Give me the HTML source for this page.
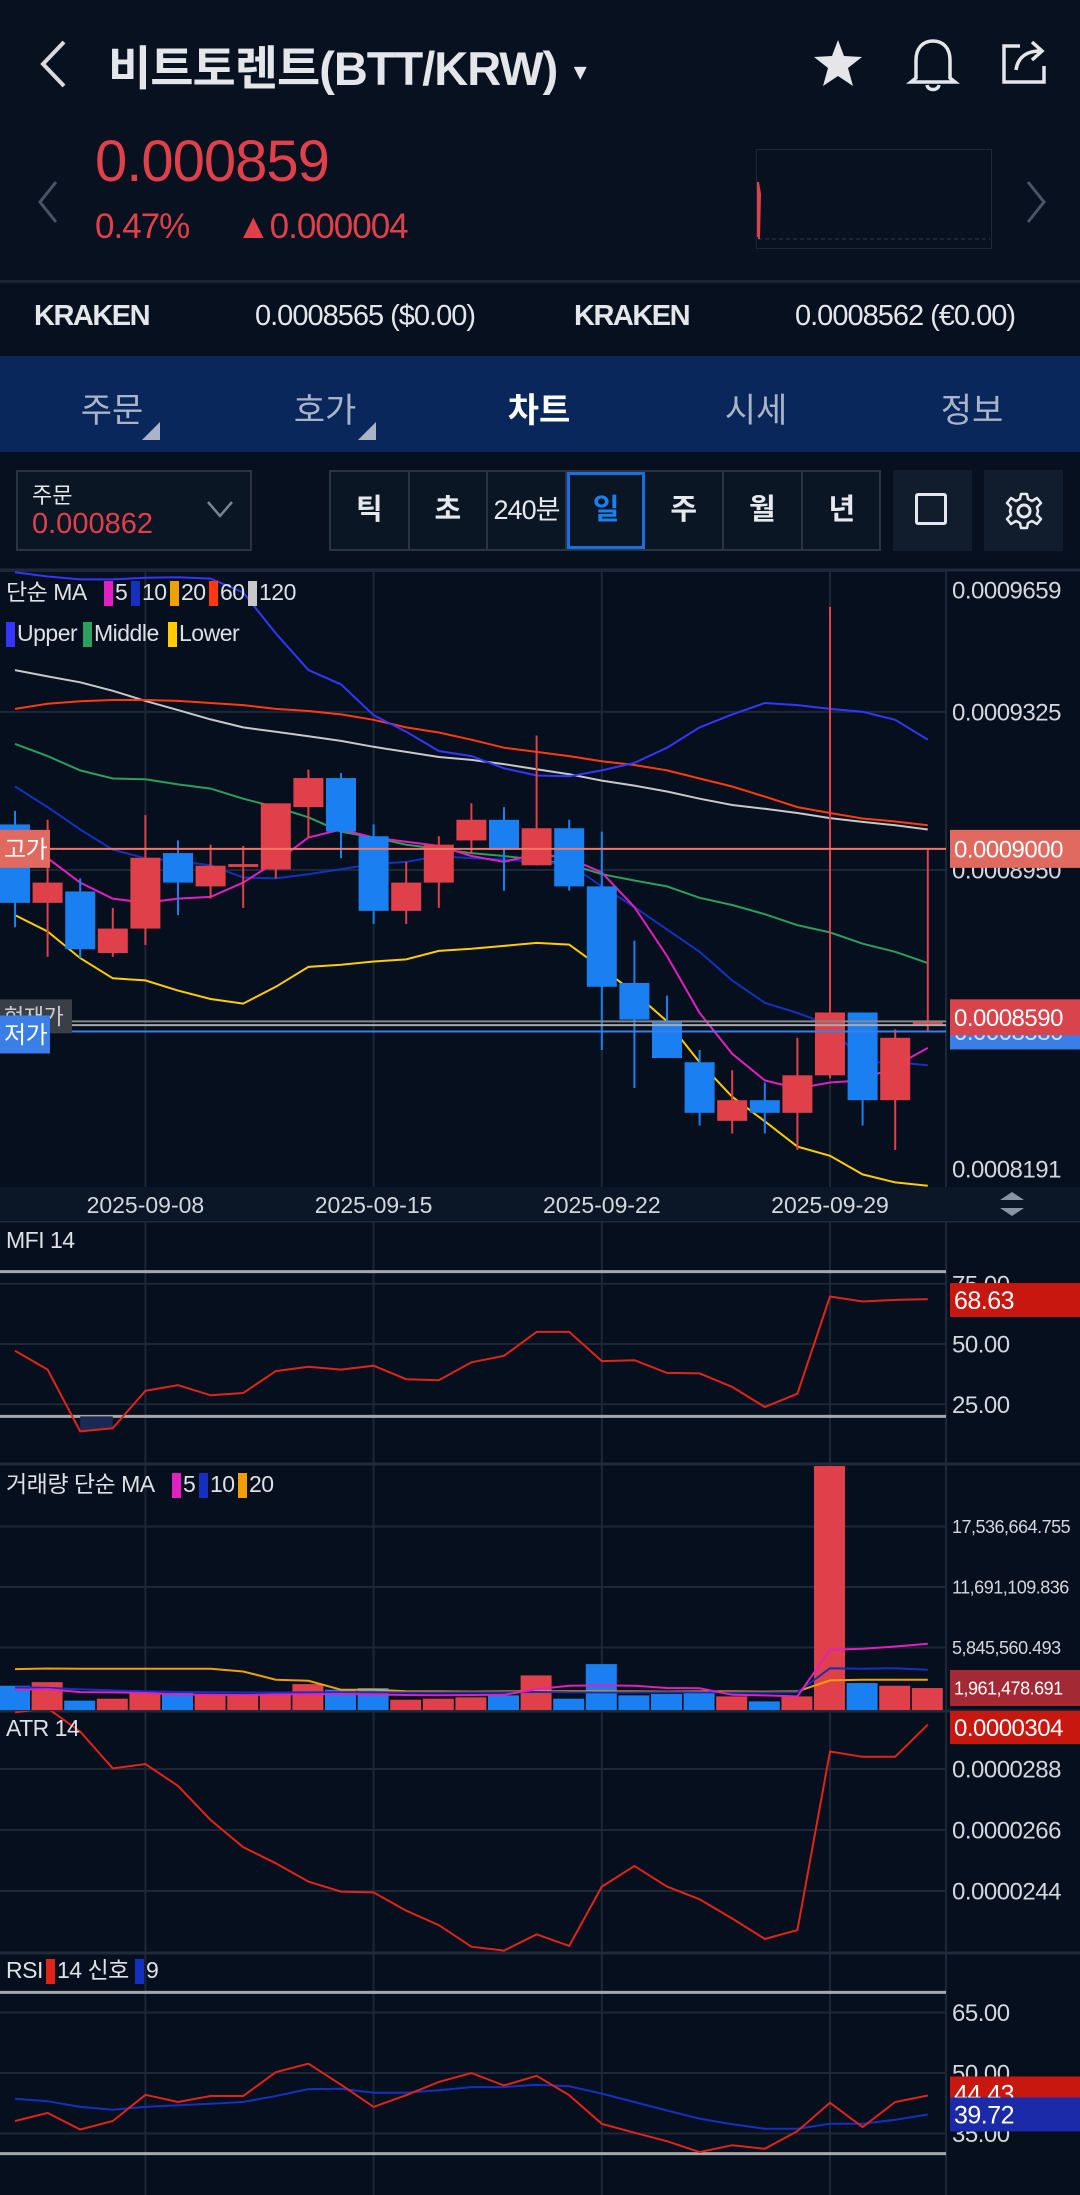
<!DOCTYPE html>
<html><head><meta charset="utf-8">
<style>
html,body{margin:0;padding:0;background:#07101e;}
body{width:1080px;height:2195px;position:relative;overflow:hidden;font-family:"Liberation Sans","Noto Sans CJK KR",sans-serif;color:#e6e8ec;}
.abs{position:absolute;}
.tb{position:absolute;top:470px;height:81px;border:2px solid #2b3442;background:#0b1625;box-sizing:border-box;}
.seg{position:absolute;top:0;height:77px;width:78.6px;border-right:2px solid #2b3442;box-sizing:border-box;text-align:center;line-height:77px;font-size:29px;font-weight:bold;color:#e6e8ec;}
</style></head><body>
<div class="abs" style="left:0;top:0;width:1080px;height:281px;background:#07111f;"></div>
<svg class="abs" style="left:38px;top:38px" width="30" height="52"><polyline points="26,4 5,26 26,48" fill="none" stroke="#d8dbe0" stroke-width="4"/></svg>
<div class="abs" style="left:108px;top:30px;font-size:47px;font-weight:bold;color:#e4e6ea;letter-spacing:-1px;">비트토렌트(BTT/KRW) <span style="font-size:22px;vertical-align:middle">▼</span></div>
<svg class="abs" style="left:812px;top:38px" width="52" height="50"><polygon points="26,2 32,18 50,19 36,30 41,48 26,38 11,48 16,30 2,19 20,18" fill="#e4e6ea"/></svg>
<svg class="abs" style="left:906px;top:36px" width="54" height="56"><path d="M10,42 L10,24 C10,12 17,5 27,5 C37,5 44,12 44,24 L44,42 L49,46 L5,46 Z" fill="none" stroke="#e4e6ea" stroke-width="3.5"/><path d="M21,49 C22,55 32,55 33,49" fill="none" stroke="#e4e6ea" stroke-width="3.5"/></svg>
<svg class="abs" style="left:998px;top:36px" width="54" height="52"><path d="M22,10 L6,10 L6,46 L46,46 L46,30" fill="none" stroke="#e4e6ea" stroke-width="3.5"/><path d="M18,34 C20,20 30,15 42,15 M34,6 L44,15 L34,24" fill="none" stroke="#e4e6ea" stroke-width="3.5"/></svg>
<svg class="abs" style="left:36px;top:180px" width="24" height="44"><polyline points="20,2 4,22 20,42" fill="none" stroke="#4a5466" stroke-width="3"/></svg>
<svg class="abs" style="left:1024px;top:180px" width="24" height="44"><polyline points="4,2 20,22 4,42" fill="none" stroke="#4a5466" stroke-width="3"/></svg>
<div class="abs" style="left:95px;top:128px;font-size:58px;color:#e0404a;letter-spacing:-1px;">0.000859</div>
<div class="abs" style="left:95px;top:207px;font-size:35px;color:#e0404a;letter-spacing:-1px;">0.47%</div>
<div class="abs" style="left:236px;top:207px;font-size:35px;color:#e0404a;letter-spacing:-1px;">▲0.000004</div>
<svg class="abs" style="left:756px;top:149px" width="236" height="100"><rect x="0.5" y="0.5" width="235" height="99" fill="none" stroke="#1d2736"/><line x1="2" y1="90" x2="234" y2="90" stroke="#2c3644" stroke-dasharray="4,3"/><polyline points="2,88 2,33 4,45 3,90" fill="none" stroke="#e0404a" stroke-width="2"/></svg>
<div class="abs" style="left:0;top:280px;width:1080px;height:3px;background:#1a2332;"></div>
<div class="abs" style="left:34px;top:300px;font-size:29px;font-weight:bold;color:#e4e6ea;letter-spacing:-1.5px;">KRAKEN</div>
<div class="abs" style="left:255px;top:300px;font-size:29px;color:#e4e6ea;letter-spacing:-1px;">0.0008565 ($0.00)</div>
<div class="abs" style="left:574px;top:300px;font-size:29px;font-weight:bold;color:#e4e6ea;letter-spacing:-1.5px;">KRAKEN</div>
<div class="abs" style="left:795px;top:300px;font-size:29px;color:#e4e6ea;letter-spacing:-1px;">0.0008562 (€0.00)</div>
<div class="abs" style="left:0;top:356px;width:1080px;height:96px;background:#0a275c;"></div>
<div class="abs" style="left:52px;top:383px;width:120px;text-align:center;font-size:34px;color:#a9b4c8;">주문</div>
<div class="abs" style="left:265px;top:383px;width:120px;text-align:center;font-size:34px;color:#a9b4c8;">호가</div>
<div class="abs" style="left:479px;top:383px;width:120px;text-align:center;font-size:34px;font-weight:bold;color:#ffffff;">차트</div>
<div class="abs" style="left:696px;top:383px;width:120px;text-align:center;font-size:34px;color:#a9b4c8;">시세</div>
<div class="abs" style="left:912px;top:383px;width:120px;text-align:center;font-size:34px;color:#a9b4c8;">정보</div>
<svg class="abs" style="left:142px;top:422px" width="20" height="20"><polygon points="18,0 18,18 0,18" fill="#a9b4c8"/></svg>
<svg class="abs" style="left:358px;top:422px" width="20" height="20"><polygon points="18,0 18,18 0,18" fill="#a9b4c8"/></svg>
<div class="tb" style="left:16px;width:236px;">
 <div class="abs" style="left:14px;top:6px;font-size:22px;color:#e6e8ec;">주문</div>
 <div class="abs" style="left:14px;top:36px;font-size:29px;color:#e0404a;">0.000862</div>
 <svg class="abs" style="left:188px;top:28px" width="28" height="20"><polyline points="2,2 14,16 26,2" fill="none" stroke="#7a8292" stroke-width="2.5"/></svg>
</div>
<div class="tb" style="left:329px;width:552px;">
 <div class="seg" style="left:0">틱</div>
 <div class="seg" style="left:78.6px">초</div>
 <div class="seg" style="left:157.2px;font-weight:normal;font-size:27px;letter-spacing:-1px">240분</div>
 <div class="seg" style="left:235.8px;border:3px solid #1a6ee0;color:#1a7ff0;line-height:71px;">일</div>
 <div class="seg" style="left:314.4px">주</div>
 <div class="seg" style="left:393px">월</div>
 <div class="seg" style="left:471.6px;border-right:none">년</div>
</div>
<div class="tb" style="left:893px;width:79px;background:#111c2c;border-color:#111c2c;"><div class="abs" style="left:20px;top:21px;width:32px;height:32px;border:3px solid #e6e8ec;border-radius:3px;box-sizing:border-box;"></div></div>
<div class="tb" style="left:984px;width:79px;background:#111c2c;border-color:#111c2c;"><svg class="abs" style="left:18px;top:19px" width="40" height="40" viewBox="0 0 40 40"><circle cx="20" cy="20" r="6" fill="none" stroke="#e6e8ec" stroke-width="3"/><path d="M17,3 L23,3 L24,8 L28,10 L33,7 L37,12 L33,16 L34,20 L33,24 L37,28 L33,33 L28,30 L24,32 L23,37 L17,37 L16,32 L12,30 L7,33 L3,28 L7,24 L6,20 L7,16 L3,12 L7,7 L12,10 L16,8 Z" fill="none" stroke="#e6e8ec" stroke-width="2.5" stroke-linejoin="round"/></svg></div>

<svg id="chart" class="abs" style="left:0;top:560px" width="1080" height="1635" viewBox="0 560 1080 1635"></svg>

<script>
const dates = ['09-04','09-05','09-06','09-07','09-08','09-09','09-10','09-11','09-12','09-13','09-14','09-15','09-16','09-17','09-18','09-19','09-20','09-21','09-22','09-23','09-24','09-25','09-26','09-27','09-28','09-29','09-30','10-01','10-02'];
const axisDates = ['2025-09-08','2025-09-15','2025-09-22','2025-09-29'];
const axisDateIdx = [4,11,18,25];
const open  = [9058,8872,8899,8753,8811,8990,8911,8957,8951,9099,9168,9030,8853,8920,9020,9069,8961,9049,8911,8682,8591,8494,8355,8404,8374,8463,8612,8404,8583];
const high  = [9090,9069,8930,8860,9080,9020,9010,9007,9108,9188,9180,9058,8969,9030,9108,9099,9269,9069,9041,8782,8652,8523,8475,8446,8552,9574,8612,8572,8999];
const low   = [8814,8744,8741,8744,8772,8843,8882,8860,8930,9027,8978,8822,8822,8860,8988,8901,8961,8901,8523,8433,8504,8344,8325,8325,8286,8456,8344,8286,8567];
const close = [8872,8920,8762,8811,8979,8920,8960,8964,9108,9168,9041,8853,8920,9010,9069,8998,9049,8911,8673,8595,8504,8374,8404,8374,8463,8612,8404,8552,8593];
const ma5   = [9003,8978,8920,8882,8872,8882,8886,8920,8969,9027,9046,9027,9017,9007,8983,8969,8988,8978,8944,8862,8746,8611,8514,8451,8432,8446,8451,8485,8528];
const ma10  = [9148,9099,9046,8998,8978,8971,8961,8932,8930,8940,8952,8964,8969,8983,8978,8975,8969,8964,8911,8862,8809,8756,8688,8635,8611,8582,8494,8494,8487];
const ma60  = [9332,9344,9350,9353,9353,9351,9346,9341,9332,9327,9319,9306,9288,9276,9259,9240,9230,9220,9208,9199,9186,9167,9148,9124,9099,9085,9072,9065,9056];
const ma120 = [9424,9409,9395,9375,9351,9329,9307,9288,9278,9267,9256,9242,9230,9218,9211,9201,9189,9177,9162,9150,9136,9119,9104,9095,9085,9073,9064,9056,9046];
const bbUpper  = [9656,9646,9639,9639,9643,9644,9641,9608,9511,9424,9390,9317,9278,9232,9220,9191,9174,9172,9186,9204,9240,9288,9319,9346,9341,9332,9325,9306,9259];
const bbMiddle = [9249,9220,9186,9167,9165,9153,9143,9119,9099,9075,9041,9027,9010,9000,8990,8983,8974,8964,8940,8925,8911,8884,8867,8845,8819,8802,8775,8756,8729];
const bbLower  = [8843,8804,8741,8693,8688,8664,8644,8633,8673,8720,8725,8733,8738,8758,8763,8770,8777,8773,8717,8659,8591,8494,8412,8354,8294,8272,8228,8209,8201];
const volume = [2.15,2.5,0.71,0.9,1.45,1.45,1.28,1.35,1.35,2.31,1.77,1.93,0.8,0.9,1.03,1.22,3.15,0.9,4.24,1.22,1.35,1.54,1.12,0.64,1.12,23.38,2.41,2.15,1.93];
const volMa5  = [1.77,1.83,1.54,1.51,1.45,1.3,1.28,1.26,1.3,1.32,1.36,1.3,1.26,1.24,1.26,1.28,1.83,2.15,2.18,2.15,1.93,1.9,1.28,1.22,1.12,5.62,5.72,5.94,6.2];
const volMa10 = [1.99,1.95,1.8,1.7,1.6,1.55,1.52,1.5,1.5,1.51,1.52,1.51,1.5,1.5,1.51,1.52,1.55,1.52,1.5,1.51,1.52,1.51,1.5,1.5,1.52,3.85,3.79,3.85,3.69];
const volMa20 = [3.76,3.82,3.79,3.79,3.79,3.79,3.79,3.53,2.73,2.63,1.77,1.77,1.62,1.6,1.58,1.6,1.6,1.62,1.6,1.6,1.58,1.6,1.6,1.58,1.6,2.67,2.73,2.73,2.73];
const mfi = [47.2,39.4,13.75,15.1,30.6,32.9,28.75,29.7,38.75,40.6,39.4,41,35.4,35,42.4,45.1,55,55,42.9,43.3,38,37.8,32.2,23.9,29.4,69.7,67.6,68.3,68.63];
const atr = [308.4,309.9,301.5,288.2,289.8,281.9,269.6,259.8,254,247.4,243.8,243.5,236.9,231.7,223.9,222.5,228.4,224.2,245.6,253,245.6,241,234.1,226.7,229.9,294.3,292.4,292.4,304];
const rsi = [38.1,40.1,36,38.1,44.6,42.8,44.3,44.3,50.2,52.3,47.1,41.6,44.5,47.8,50,46.9,49.3,44.5,37.4,35.2,33.1,30.4,32.1,31.2,35.6,42.6,36.6,42.8,44.43];
const rsiSignal = [43.6,43,41.6,40.9,41.6,42,42.4,42.8,44.3,46,46.1,45.1,45.1,45.7,46.5,46.5,47.1,46.7,44.9,42.8,40.7,38.7,37.3,36.2,36.2,37.4,37.4,38.4,39.72];
const priceTicks = [9659,9325,8950,8191];
const mfiTicks = [75,50,25];
const volTicks = [17536664.755,11691109.836,5845560.493];
const atrTicks = [288,266,244];
const rsiTicks = [65,50,35];

const NS='http://www.w3.org/2000/svg';
const svg=document.getElementById('chart');
function mk(tag,attrs,parent){const e=document.createElementNS(NS,tag);for(const k in attrs)e.setAttribute(k,attrs[k]);(parent||svg).appendChild(e);return e;}
const P=v=>v*1e-7;
const xAt=i=>15+i*32.6;
const priceY=p=>571+(0.0009659-p)/0.0001468*619;
const mfiY=v=>1344-(v-50)*60.3/25;
const volY=v=>1708-v/5845560.493*60.5;
const atrY=v=>1769-(v*1e-7-0.0000288)/0.0000022*61;
const rsiY=v=>2073-(v-50)*60.5/15;
const PW=946;
function pathOf(arr,yf){return arr.map((v,i)=>(i?'L':'M')+xAt(i).toFixed(1)+','+yf(v).toFixed(1)).join(' ');}
function clip(id,y0,y1){const d=mk('clipPath',{id:id});mk('rect',{x:0,y:y0,width:PW,height:y1-y0},d);}

mk('rect',{x:0,y:560,width:1080,height:1635,fill:'#060f1d'});
clip('cMain',570,1187);clip('cMfi',1221,1464);clip('cVol',1464,1710);clip('cAtr',1711,1953);clip('cRsi',1953,2195);

axisDateIdx.forEach(i=>{
  const g=mk('line',{x1:xAt(i),x2:xAt(i),y1:570,y2:2195,stroke:'#1c2737','stroke-width':2});
  
  
});
let e=mk('line',{x1:PW,x2:PW,y1:570,y2:2195,stroke:'#1c2737','stroke-width':2});


[570,1221,1464,1711,1953].forEach(y=>{
  const l=mk('line',{x1:0,x2:1080,y1:y,y2:y,stroke:'#1f2a3a','stroke-width':3});
  
  
});

function gridAndLabels(ticks,yf,fmt,size,name,ymax){
  ticks.forEach(t=>{
    const y=yf(t);
    const g=mk('line',{x1:0,x2:PW,y1:y,y2:y,stroke:'#1c2737','stroke-width':2});
    
    
    const ly=Math.min(Math.max(y,590),ymax||9999);
    const tx=mk('text',{x:952,y:ly+size*0.36,fill:'#d4d8de','font-size':size,'font-family':'Liberation Sans, sans-serif','letter-spacing':'-0.5'});
    tx.textContent=fmt(t);
    
    
  });
}
gridAndLabels(priceTicks,v=>priceY(P(v)),v=>P(v).toFixed(7),24,'price',1169);

const gm=mk('g',{'clip-path':'url(#cMain)'});


function drawLine(arr,yf,color,w,name,parent){const l=mk('path',{d:pathOf(arr,yf),fill:'none',stroke:color,'stroke-width':w},parent);return l;}
const pY=v=>priceY(P(v));
drawLine(ma120,pY,'#c8c8c8',2,'ma120-line',gm);
drawLine(ma60,pY,'#ff3a10',2,'ma60-line',gm);
drawLine(bbUpper,pY,'#3535ff',2,'bollinger-upper-line',gm);
drawLine(bbMiddle,pY,'#2e9e5c',2,'bollinger-middle-line',gm);
drawLine(bbLower,pY,'#ffcc00',2,'bollinger-lower-line',gm);
drawLine(ma10,pY,'#1530c0',2,'ma10-line',gm);
drawLine(ma5,pY,'#e020c0',2,'ma5-line',gm);
for(let i=0;i<open.length;i++){
  const up=close[i]>=open[i];const c=up?'#e0404a':'#1a7ff0';const x=xAt(i);
  const w=mk('line',{x1:x,x2:x,y1:pY(high[i]),y2:pY(low[i]),stroke:c,'stroke-width':2},gm);
  
  
  const t=pY(Math.max(open[i],close[i])),b=pY(Math.min(open[i],close[i]));
  const r=mk('rect',{x:x-15,y:t,width:30,height:Math.max(b-t,3),fill:c},gm);
  
  
}
e=mk('line',{x1:0,x2:PW,y1:pY(9000),y2:pY(9000),stroke:'#f07868','stroke-width':2});


e=mk('line',{x1:0,x2:PW,y1:pY(8591),y2:pY(8591),stroke:'#888','stroke-width':2});


e=mk('line',{x1:0,x2:PW,y1:pY(8582),y2:pY(8582),stroke:'#aaa','stroke-width':2});


e=mk('line',{x1:0,x2:PW,y1:pY(8567),y2:pY(8567),stroke:'#3a7ee8','stroke-width':2});



function tag(x,y,w,h,bg,txt,fg,size,name){
  const g=mk('g',{});
  
  
  mk('rect',{x:x,y:y,width:w,height:h,fill:bg},g);
  const t=mk('text',{x:x+4,y:y+h/2+size*0.36,fill:fg,'font-size':size,'letter-spacing':'-0.5'},g);
  t.textContent=txt;
}
tag(0,pY(9000)-19,50,38,'#e06a5f','고가','#fff',24,'high-price-tag');
tag(0,pY(8591)-22,72,34,'#3a3f47','현재가','#ccc',22,'current-price-left-tag');
tag(0,pY(8567)-16,50,38,'#3a7ee8','저가','#fff',24,'low-price-tag');
tag(950,pY(8567)-18,130,36,'#3a7ee8','0.0008580','#cfe0ff',24,'low-price-axis-tag');
tag(950,pY(9000)-19,130,38,'#e06a5f','0.0009000','#fff',24,'high-price-axis-tag');
tag(950,pY(8591)-22,130,36,'#d9434b','0.0008590','#fff',24,'current-price-axis-tag');

function legend(x,y,items,name){
  const g=mk('g',{});
  
  
  let cx=x;
  items.forEach(it=>{
    if(it[1]){mk('rect',{x:cx,y:y-19,width:9,height:25,fill:it[1]},g);cx+=11;}
    const t=mk('text',{x:cx,y:y,fill:'#dde0e5','font-size':23,'letter-spacing':'-0.5'},g);
    t.textContent=it[0];cx+=it[2];
  });
}
legend(6,600,[['단순 MA',null,98],['5','#e020c0',16],['10','#1530c0',28],['20','#f0a000',28],['60','#ff3a10',28],['120','#c8c8c8',50]],'ma-legend');
legend(6,641,[['Upper','#3535ff',66],['Middle','#2e9e5c',74],['Lower','#ffcc00',90]],'bollinger-legend');

mk('rect',{x:0,y:1187,width:1080,height:34,fill:'#0b1626'});
axisDates.forEach((d,k)=>{
  const t=mk('text',{x:xAt(axisDateIdx[k]),y:1213,fill:'#d4d8de','font-size':23,'text-anchor':'middle'});
  t.textContent=d;
  
  
});
e=mk('path',{d:'M1000,1200 L1012,1192 L1024,1200 Z M1000,1208 L1012,1216 L1024,1208 Z',fill:'#8a93a3'});



gridAndLabels(mfiTicks,mfiY,v=>v.toFixed(2),24,'mfi');
[80,20].forEach(v=>{const l=mk('line',{x1:0,x2:PW,y1:mfiY(v),y2:mfiY(v),stroke:'#a8a8a8','stroke-width':3});});
const gf=mk('g',{'clip-path':'url(#cMfi)'});


mk('path',{d:'M'+xAt(2)+','+mfiY(20)+' L'+xAt(2)+','+mfiY(mfi[2])+' L'+xAt(3)+','+mfiY(mfi[3])+' L'+xAt(3)+','+mfiY(20)+' Z',fill:'#1a2a55'},gf);
drawLine(mfi,mfiY,'#e0241a',2,'mfi-line',gf);
legend(6,1248,[['MFI 14',null,80]],'mfi-legend');
tag(950,mfiY(mfi[28])-16,130,34,'#c8170f','68.63','#fff',25,'mfi-value-tag');

gridAndLabels(volTicks,volY,v=>v.toLocaleString('en-US',{minimumFractionDigits:3,maximumFractionDigits:3}),18,'volume');
const gv=mk('g',{'clip-path':'url(#cVol)'});


const vM=v=>volY(v*1e6);
for(let i=0;i<volume.length;i++){
  const up=close[i]>=open[i];
  const y=vM(volume[i]);
  const r=mk('rect',{x:xAt(i)-16,y:y,width:31,height:1710-y,fill:up?'#e0404a':'#1a7ff0'},gv);
  
  
}
drawLine(volMa20,vM,'#f0a000',2,'volume-ma20-line',gv);
drawLine(volMa10,vM,'#1530c0',2,'volume-ma10-line',gv);
drawLine(volMa5,vM,'#e020c0',2,'volume-ma5-line',gv);
legend(6,1492,[['거래량 단순 MA',null,166],['5','#e020c0',16],['10','#1530c0',28],['20','#f0a000',36]],'volume-legend');
tag(950,1670,130,36,'#a32a34','1,961,478.691','#fff',18,'volume-value-tag');

gridAndLabels(atrTicks,atrY,v=>P(v).toFixed(7),24,'atr');
const ga=mk('g',{'clip-path':'url(#cAtr)'});


drawLine(atr,atrY,'#e0241a',2,'atr-line',ga);
legend(6,1736,[['ATR 14',null,80]],'atr-legend');
tag(950,1711,130,33,'#c8170f','0.0000304','#fff',24,'atr-value-tag');

gridAndLabels(rsiTicks,rsiY,v=>v.toFixed(2),24,'rsi');
[70,30].forEach(v=>{const l=mk('line',{x1:0,x2:PW,y1:rsiY(v),y2:rsiY(v),stroke:'#a8a8a8','stroke-width':3});});
const gr=mk('g',{'clip-path':'url(#cRsi)'});


drawLine(rsiSignal,rsiY,'#1530c0',2,'rsi-signal-line',gr);
drawLine(rsi,rsiY,'#e0241a',2,'rsi-line',gr);
legend(6,1978,[['RSI',null,40],['14 신호','#e0241a',78],['9','#1530c0',20]],'rsi-legend');
tag(950,rsiY(rsi[28])-19,130,34,'#c8170f','44.43','#fff',25,'rsi-value-tag');
tag(950,rsiY(rsiSignal[28])-17,130,34,'#1a2aa8','39.72','#fff',25,'rsi-signal-value-tag');
</script>
</body></html>
